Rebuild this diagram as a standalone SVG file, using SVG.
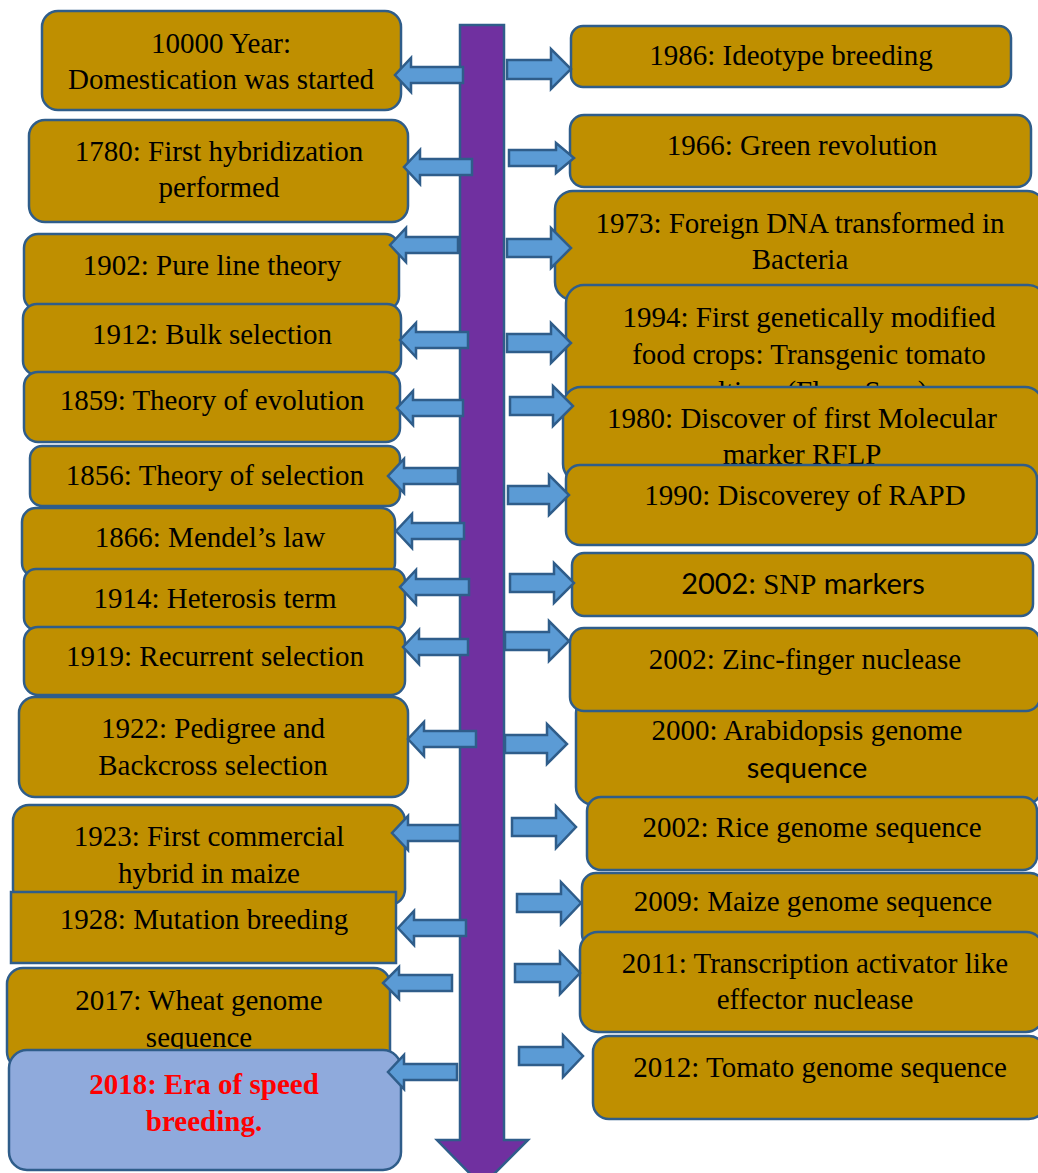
<svg xmlns="http://www.w3.org/2000/svg" width="1038" height="1173" viewBox="0 0 1038 1173">
<style>
.b{fill:#BF8F00;stroke:#2F5D8A;stroke-width:2.5}
.hl{fill:#8FAADC;stroke:#2F5D8A;stroke-width:2.5}
.t{font-family:"Liberation Serif","Times New Roman",serif;font-size:29px;fill:#000;text-anchor:middle}
.s{font-family:Lato,"Liberation Sans",sans-serif}
.r{font-weight:bold;fill:#FF0000}
.a{fill:#5B9BD5;stroke:#2F5D8A;stroke-width:2.5;stroke-linejoin:miter}
.tl{fill:#7030A0;stroke:#2F5D8A;stroke-width:2.5}
</style>
<rect width="1038" height="1173" fill="#fff"/>
<g id="timeline"><path class="tl" d="M460,25 L504,25 L504,1140 L528,1140 L482,1186 L437,1140 L460,1140 Z"/></g>
<g id="left-nodes">
<g id="n10000"><rect class="b" x="42" y="11" width="359" height="99" rx="16"/><text class="t" x="221" y="53">10000 Year:</text><text class="t" x="221" y="89">Domestication was started</text></g>
<g id="n1780"><rect class="b" x="29" y="120" width="379" height="102" rx="16"/><text class="t" x="219" y="161">1780: First hybridization</text><text class="t" x="219" y="197">performed</text></g>
<g id="n1902"><rect class="b" x="24" y="234" width="375" height="76" rx="14"/><text class="t" x="212" y="275">1902: Pure line theory</text></g>
<g id="n1912"><rect class="b" x="23" y="304" width="378" height="71" rx="14"/><text class="t" x="212" y="344">1912: Bulk selection</text></g>
<g id="n1859"><rect class="b" x="24" y="372" width="376" height="70" rx="14"/><text class="t" x="212" y="410">1859: Theory of evolution</text></g>
<g id="n1856"><rect class="b" x="30" y="446" width="370" height="60" rx="12"/><text class="t" x="215" y="485">1856: Theory of selection</text></g>
<g id="n1866"><rect class="b" x="22" y="508" width="373" height="69" rx="14"/><text class="t" x="210" y="547">1866: Mendel’s law</text></g>
<g id="n1914"><rect class="b" x="24" y="569" width="381" height="61" rx="12"/><text class="t" x="215" y="608">1914: Heterosis term</text></g>
<g id="n1919"><rect class="b" x="24" y="627" width="381" height="68" rx="14"/><text class="t" x="215" y="666">1919: Recurrent selection</text></g>
<g id="n1922"><rect class="b" x="19" y="697" width="389" height="100" rx="16"/><text class="t" x="213" y="738">1922: Pedigree and</text><text class="t" x="213" y="775">Backcross selection</text></g>
<g id="n1923"><rect class="b" x="13" y="805" width="392" height="100" rx="16"/><text class="t" x="209" y="846">1923: First commercial</text><text class="t" x="209" y="883">hybrid in maize</text></g>
<g id="n1928"><rect class="b" x="11" y="892" width="385" height="71"/><text class="t" x="204" y="929">1928: Mutation breeding</text></g>
<g id="n2017"><rect class="b" x="7" y="968" width="383" height="100" rx="16"/><text class="t" x="199" y="1010">2017: Wheat genome</text><text class="t" x="199" y="1047">sequence</text></g>
<g id="n2018"><rect class="hl" x="9" y="1050" width="392" height="120" rx="18"/><text class="t r" x="204" y="1094">2018: Era of speed</text><text class="t r" x="204" y="1131">breeding.</text></g>
</g>
<g id="right-nodes">
<g id="n1986"><rect class="b" x="571" y="26" width="440" height="61" rx="12"/><text class="t" x="791" y="65">1986: Ideotype breeding</text></g>
<g id="n1966"><rect class="b" x="570" y="115" width="461" height="72" rx="14"/><text class="t" x="802" y="155">1966: Green revolution</text></g>
<g id="n1973"><rect class="b" x="555" y="191" width="490" height="109" rx="18"/><text class="t" x="800" y="233">1973: Foreign DNA transformed in</text><text class="t" x="800" y="269">Bacteria</text></g>
<g id="n1994"><rect class="b" x="566" y="285" width="480" height="125" rx="18"/><text class="t" x="809" y="327">1994: First genetically modified</text><text class="t" x="809" y="364">food crops: Transgenic tomato</text><text class="t" x="809" y="401">cultivar (Flavr Savr)</text></g>
<g id="n1980"><rect class="b" x="563" y="387" width="480" height="95" rx="18"/><text class="t" x="802" y="428">1980: Discover of first Molecular</text><text class="t" x="802" y="464">marker RFLP</text></g>
<g id="n1990"><rect class="b" x="566" y="465" width="471" height="80" rx="14"/><text class="t" x="805" y="505">1990: Discoverey of RAPD</text></g>
<g id="nSNP"><rect class="b" x="572" y="553" width="461" height="63" rx="12"/><text class="t" x="803" y="594"><tspan class="s">2002: </tspan>SNP<tspan class="s"> markers</tspan></text></g>
<g id="n2000"><rect class="b" x="576" y="695" width="466" height="110" rx="18"/><text class="t" x="807" y="740">2000: Arabidopsis genome</text><text class="t s" x="807" y="778">sequence</text></g>
<g id="nZinc"><rect class="b" x="570" y="628" width="470" height="83" rx="14"/><text class="t" x="805" y="669">2002: Zinc-finger nuclease</text></g>
<g id="nRice"><rect class="b" x="587" y="797" width="450" height="73" rx="14"/><text class="t" x="812" y="837">2002: Rice genome sequence</text></g>
<g id="nMaize"><rect class="b" x="582" y="873" width="462" height="75" rx="14"/><text class="t" x="813" y="911">2009: Maize genome sequence</text></g>
<g id="nTALEN"><rect class="b" x="580" y="932" width="464" height="100" rx="18"/><text class="t" x="815" y="973">2011: Transcription activator like</text><text class="t" x="815" y="1009">effector nuclease</text></g>
<g id="nTomato"><rect class="b" x="593" y="1036" width="452" height="83" rx="16"/><text class="t" x="820" y="1077">2012: Tomato genome sequence</text></g>
</g>
<g id="connectors">
<path class="a" d="M463,67 L411,67 L411,58 L395,75 L411,92 L411,83 L463,83 Z"/>
<path class="a" d="M472,159 L420,159 L420,150 L404,167 L420,184 L420,175 L472,175 Z"/>
<path class="a" d="M458,237 L406,237 L406,228 L390,245 L406,262 L406,253 L458,253 Z"/>
<path class="a" d="M468,332 L416,332 L416,323 L400,340 L416,357 L416,348 L468,348 Z"/>
<path class="a" d="M463,400 L413,400 L413,391 L397,408 L413,425 L413,416 L463,416 Z"/>
<path class="a" d="M458,468 L404,468 L404,459 L388,476 L404,493 L404,484 L458,484 Z"/>
<path class="a" d="M464,523 L412,523 L412,514 L396,531 L412,548 L412,539 L464,539 Z"/>
<path class="a" d="M469,579 L416,579 L416,570 L400,587 L416,604 L416,595 L469,595 Z"/>
<path class="a" d="M468,639 L419,639 L419,630 L403,647 L419,664 L419,655 L468,655 Z"/>
<path class="a" d="M476,731 L424,731 L424,722 L408,739 L424,756 L424,747 L476,747 Z"/>
<path class="a" d="M460,825 L408,825 L408,816 L392,833 L408,850 L408,841 L460,841 Z"/>
<path class="a" d="M466,920 L414,920 L414,911 L398,928 L414,945 L414,936 L466,936 Z"/>
<path class="a" d="M452,975 L399,975 L399,967 L383,983 L399,999 L399,991 L452,991 Z"/>
<path class="a" d="M457,1064 L404,1064 L404,1055 L388,1072 L404,1089 L404,1080 L457,1080 Z"/>
<path class="a" d="M507,60 L551,60 L551,49 L571,69 L551,89 L551,79 L507,79 Z"/>
<path class="a" d="M509,150 L556,150 L556,143 L574,158 L556,173 L556,166 L509,166 Z"/>
<path class="a" d="M507,239 L551,239 L551,228 L571,248 L551,268 L551,257 L507,257 Z"/>
<path class="a" d="M507,334 L551,334 L551,323 L571,343 L551,363 L551,352 L507,352 Z"/>
<path class="a" d="M510,397 L553,397 L553,386 L573,406 L553,426 L553,415 L510,415 Z"/>
<path class="a" d="M508,486 L549,486 L549,475 L569,495 L549,515 L549,504 L508,504 Z"/>
<path class="a" d="M510,574 L554,574 L554,563 L574,583 L554,603 L554,592 L510,592 Z"/>
<path class="a" d="M505,632 L549,632 L549,621 L569,641 L549,661 L549,650 L505,650 Z"/>
<path class="a" d="M505,735 L547,735 L547,724 L567,744 L547,764 L547,753 L505,753 Z"/>
<path class="a" d="M512,818 L556,818 L556,806 L576,827 L556,848 L556,836 L512,836 Z"/>
<path class="a" d="M517,894 L561,894 L561,882 L581,903 L561,924 L561,912 L517,912 Z"/>
<path class="a" d="M515,964 L560,964 L560,952 L580,973 L560,994 L560,982 L515,982 Z"/>
<path class="a" d="M519,1047 L563,1047 L563,1035 L583,1056 L563,1077 L563,1065 L519,1065 Z"/>
</g>
</svg>
